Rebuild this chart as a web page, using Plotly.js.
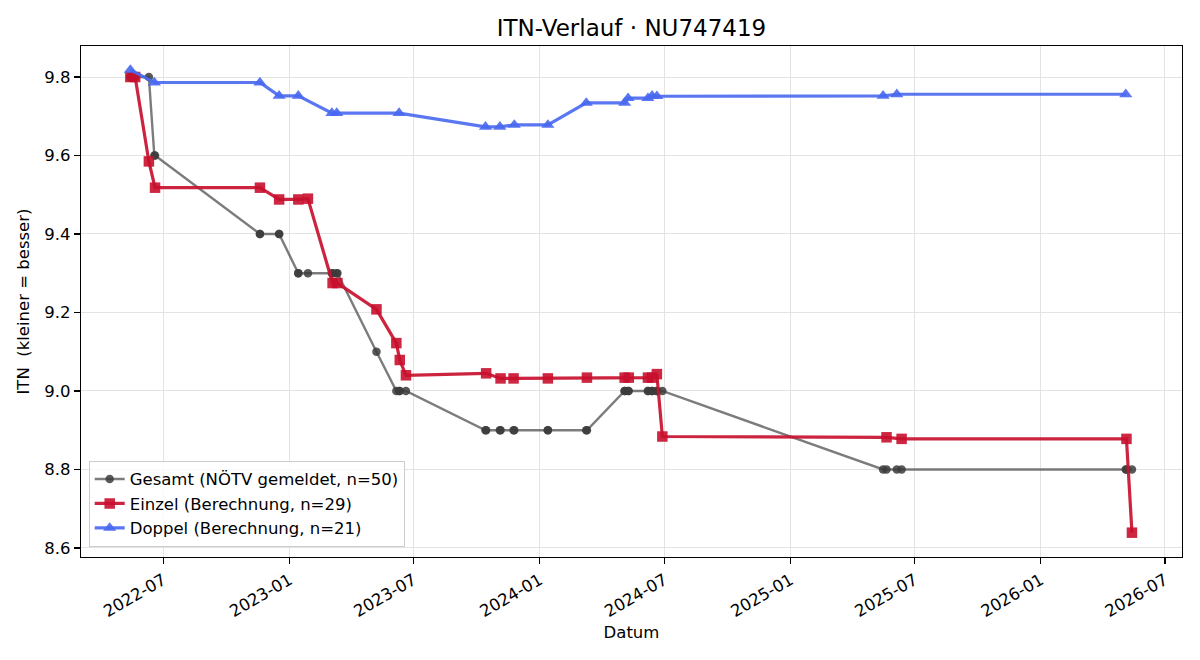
<!DOCTYPE html>
<html>
<head>
<meta charset="utf-8">
<script src="https://cdn.plot.ly/plotly-3.0.1.min.js"></script>
<style>
html,body{margin:0;padding:0;background:#fff;}
#chart{width:1200px;height:660px;}
</style>
</head>
<body>
<div id="chart"></div>
<script>
// ---- Data ----
const gesamtDates = [
  '2022-05-14','2022-05-14','2022-05-21','2022-06-10','2022-06-18','2022-06-19',
  '2022-11-19','2022-11-19','2022-12-17','2022-12-17','2023-01-14','2023-01-14',
  '2023-01-28','2023-03-04','2023-03-05','2023-03-11','2023-03-12','2023-05-08',
  '2023-06-06','2023-06-10','2023-06-11','2023-06-20','2023-10-14','2023-10-15',
  '2023-11-04','2023-11-05','2023-11-24','2023-11-25','2024-01-13','2024-01-13',
  '2024-03-09','2024-03-10','2024-05-04','2024-05-04','2024-05-09','2024-05-10',
  '2024-06-07','2024-06-07','2024-06-13','2024-06-13','2024-06-20','2024-06-20',
  '2024-06-28','2025-05-16','2025-05-21','2025-06-05','2025-06-12','2026-05-05',
  '2026-05-06','2026-05-14'
];
const gesamtValues = [
  9.8, 9.8, 9.8, 9.8, 9.6, 9.6,
  9.4, 9.4, 9.4, 9.4, 9.3, 9.3,
  9.3, 9.3, 9.3, 9.3, 9.3, 9.1,
  9.0, 9.0, 9.0, 9.0, 8.9, 8.9,
  8.9, 8.9, 8.9, 8.9, 8.9, 8.9,
  8.9, 8.9, 9.0, 9.0, 9.0, 9.0,
  9.0, 9.0, 9.0, 9.0, 9.0, 9.0,
  9.0, 8.8, 8.8, 8.8, 8.8, 8.8,
  8.8, 8.8
];

const einzelDates = [
  '2022-05-14','2022-05-21','2022-06-10','2022-06-19','2022-11-19','2022-12-17',
  '2023-01-14','2023-01-28','2023-03-05','2023-03-12','2023-05-08','2023-06-06',
  '2023-06-11','2023-06-20','2023-10-15','2023-11-05','2023-11-24','2024-01-13',
  '2024-03-10','2024-05-04','2024-05-10','2024-06-07','2024-06-13','2024-06-20',
  '2024-06-28','2025-05-21','2025-06-12','2026-05-06','2026-05-14'
];
const einzelValues = [
  9.800, 9.800, 9.585, 9.518, 9.518, 9.488,
  9.488, 9.490, 9.275, 9.275, 9.208, 9.122,
  9.079, 9.040, 9.045, 9.032, 9.032, 9.032,
  9.034, 9.034, 9.034, 9.034, 9.034, 9.043,
  8.884, 8.882, 8.878, 8.878, 8.639
];

const doppelDates = [
  '2022-05-14','2022-06-18','2022-11-19','2022-12-17','2023-01-14','2023-03-04',
  '2023-03-11','2023-06-10','2023-10-14','2023-11-04','2023-11-25','2024-01-13',
  '2024-03-09','2024-05-04','2024-05-09','2024-06-07','2024-06-13','2024-06-20',
  '2025-05-16','2025-06-05','2026-05-05'
];
const doppelValues = [
  9.818, 9.786, 9.786, 9.752, 9.752, 9.708,
  9.708, 9.708, 9.673, 9.673, 9.678, 9.678,
  9.734, 9.734, 9.746, 9.746, 9.752, 9.751,
  9.752, 9.756, 9.756
];

const seriesNames = [
  'Gesamt (NÖTV gemeldet, n=50)',
  'Einzel (Berechnung, n=29)',
  'Doppel (Berechnung, n=21)'
];

// ---- Chart ----
const FONT = 'DejaVu Sans, sans-serif';

const traces = [
  {
    x: gesamtDates, y: gesamtValues, name: seriesNames[0],
    type: 'scatter', mode: 'lines+markers',
    line: {color: 'rgba(68,68,68,0.7)', width: 2.4},
    marker: {symbol: 'circle', size: 8.5, color: 'rgba(60,60,60,0.85)', line: {width: 0}},
    hoverinfo: 'skip'
  },
  {
    x: einzelDates, y: einzelValues, name: seriesNames[1],
    type: 'scatter', mode: 'lines+markers',
    line: {color: 'rgba(200,16,46,0.92)', width: 3.2},
    marker: {symbol: 'square', size: 10.5, color: 'rgba(200,16,46,0.9)', line: {width: 0}},
    hoverinfo: 'skip'
  },
  {
    x: doppelDates, y: doppelValues, name: seriesNames[2],
    type: 'scatter', mode: 'lines+markers',
    line: {color: 'rgba(72,104,240,0.9)', width: 3.2},
    marker: {symbol: 'triangle-up', size: 11.5, color: 'rgba(72,104,240,0.9)', line: {width: 0}},
    hoverinfo: 'skip'
  }
];

const layout = {
  width: 1200, height: 660,
  margin: {l: 81, r: 18, t: 46, b: 103},
  paper_bgcolor: '#ffffff', plot_bgcolor: '#ffffff',
  font: {family: FONT, size: 16.5, color: '#000'},
  title: {
    text: 'ITN-Verlauf · NU747419',
    font: {family: FONT, size: 23, color: '#000'},
    x: 0.5, xref: 'paper', xanchor: 'center',
    y: 1 - 28/660, yref: 'container', yanchor: 'middle'
  },
  xaxis: {
    type: 'date',
    range: ['2022-03-03', '2026-07-26'],
    tick0: '2022-01-01', dtick: 'M6', tickformat: '%Y-%m',
    tickangle: -30,
    ticks: 'outside', ticklen: 6, tickwidth: 1.3, tickcolor: '#000',
    showline: true, linecolor: '#000', linewidth: 1.3, mirror: true,
    showgrid: true, gridcolor: '#e3e3e3', gridwidth: 1,
    zeroline: false,
    tickfont: {family: FONT, size: 16.5, color: '#000'},
    title: {text: 'Datum', font: {family: FONT, size: 16.5, color: '#000'}, standoff: 6}
  },
  yaxis: {
    range: [8.577, 9.879],
    tick0: 8.6, dtick: 0.2, tickformat: '.1f',
    ticks: 'outside', ticklen: 6, tickwidth: 1.3, tickcolor: '#000',
    showline: true, linecolor: '#000', linewidth: 1.3, mirror: true,
    showgrid: true, gridcolor: '#e3e3e3', gridwidth: 1,
    zeroline: false,
    tickfont: {family: FONT, size: 16.5, color: '#000'},
    title: {text: 'ITN\u00a0 (kleiner = besser)', font: {family: FONT, size: 16.5, color: '#000'}, standoff: 10}
  },
  legend: {
    x: 0.007, y: 0.02, xanchor: 'left', yanchor: 'bottom',
    bgcolor: 'rgba(255,255,255,0.8)', bordercolor: '#cccccc', borderwidth: 1,
    font: {family: FONT, size: 16.5, color: '#000'},
    tracegroupgap: 0
  },
  showlegend: true,
  hovermode: false
};

Plotly.newPlot('chart', traces, layout, {displayModeBar: false, staticPlot: true});
</script>
</body>
</html>
